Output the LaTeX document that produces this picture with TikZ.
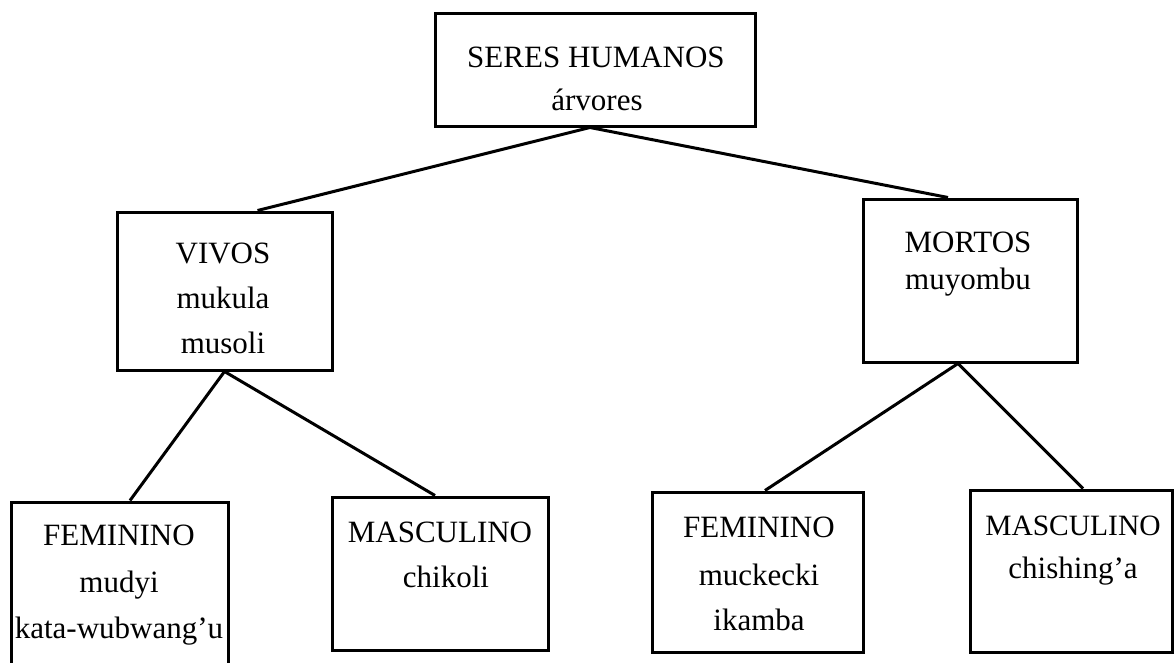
\documentclass[tikz,border=0pt]{standalone}
\usepackage{fontspec}
\setmainfont{Liberation Serif}
\begin{document}
\begin{tikzpicture}[x=1pt,y=-1pt,
  box/.style={draw=black,line width=3pt,rectangle,inner sep=0pt},
  lbl/.style={anchor=base,inner sep=0pt,font=\fontsize{31}{36}\selectfont},
  link/.style={draw=black,line width=3pt}]
\useasboundingbox (0,0) rectangle (1176,662);
% boxes
\node[box,minimum width=320pt,minimum height=113pt] (top) at (595,69.5) {};
\node[box,minimum width=215pt,minimum height=158pt] (viv) at (224.5,291) {};
\node[box,minimum width=214pt,minimum height=163pt] (mor) at (970,280.5) {};
\node[box,minimum width=217pt,minimum height=170pt] (fl) at (119.5,587) {};
\node[box,minimum width=216pt,minimum height=153pt] (ml) at (440,573.5) {};
\node[box,minimum width=211pt,minimum height=160pt] (fr) at (757.5,572) {};
\node[box,minimum width=202pt,minimum height=162pt] (mr) at (1071,571) {};
% texts
\node[lbl] (t1) at (596,67) {SERES HUMANOS};
\node[lbl] (t2) at (597,110) {árvores};
\node[lbl] (v1) at (223,263) {VIVOS};
\node[lbl] (v2) at (223,308) {mukula};
\node[lbl] (v3) at (223,353) {musoli};
\node[lbl] (m1) at (968,252) {MORTOS};
\node[lbl] (m2) at (968,289) {muyombu};
\node[lbl] (f1) at (119,545) {FEMININO};
\node[lbl] (f2) at (119,592) {mudyi};
\node[lbl] (f3) at (119,638) {kata-wubwang’u};
\node[lbl] (s1) at (440,542) {MASCULINO};
\node[lbl] (s2) at (446,587) {chikoli};
\node[lbl] (g1) at (759,537) {FEMININO};
\node[lbl] (g2) at (759,585) {muckecki};
\node[lbl] (g3) at (759,630) {ikamba};
\node[lbl,font=\fontsize{29.5}{36}\selectfont] (h1) at (1073,535) {MASCULINO};
\node[lbl] (h2) at (1073,578) {chishing’a};
% connectors
\draw[link] ([xshift=-5pt]top.south) -- ([xshift=33pt]viv.north);
\draw[link] ([xshift=-5pt]top.south) -- ([xshift=-22pt]mor.north);
\draw[link] (viv.south) -- ([xshift=10.5pt]fl.north);
\draw[link] (viv.south) -- ([xshift=-5pt]ml.north);
\draw[link] ([xshift=-12pt]mor.south) -- ([xshift=7.5pt]fr.north);
\draw[link] ([xshift=-12pt]mor.south) -- ([xshift=12pt]mr.north);
\end{tikzpicture}
\end{document}
